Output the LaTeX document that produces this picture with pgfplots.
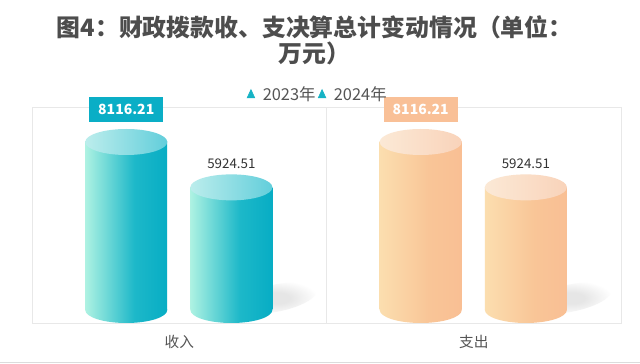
\documentclass[border=0pt]{standalone}
\usepackage{fontspec}
\setmainfont{Noto Sans CJK SC}
\usepackage{pgfplots}
\pgfplotsset{compat=1.18}
\definecolor{tA}{HTML}{AEF2E2}
\definecolor{tB}{HTML}{1DB8C9}
\definecolor{tC}{HTML}{07ADC4}
\definecolor{ttA}{HTML}{BCEDEC}
\definecolor{ttB}{HTML}{62CEDB}
\definecolor{pA}{HTML}{FBDEAF}
\definecolor{pB}{HTML}{F9C597}
\definecolor{pC}{HTML}{F9BF94}
\definecolor{ptA}{HTML}{FBE9D6}
\definecolor{ptB}{HTML}{F9D3BA}
\definecolor{tealbox}{HTML}{0AAEC6}
\definecolor{peachbox}{HTML}{F9C097}
\definecolor{frame}{HTML}{E8E8E8}
\definecolor{bline}{HTML}{DCDCDC}
\definecolor{labc}{HTML}{555555}
\definecolor{titc}{HTML}{4D4D4D}
\definecolor{valc}{HTML}{333333}
\definecolor{legtri}{HTML}{16B3C5}
\definecolor{shc}{HTML}{E6E6E6}
\pgfdeclarehorizontalshading{tealside}{100bp}{color(0bp)=(tA); color(25bp)=(tA); color(55bp)=(tB); color(75bp)=(tC); color(100bp)=(tC)}
\pgfdeclarehorizontalshading{tealtopsh}{100bp}{color(0bp)=(ttA); color(25bp)=(ttA); color(75bp)=(ttB); color(100bp)=(ttB)}
\pgfdeclarehorizontalshading{peachside}{100bp}{color(0bp)=(pA); color(25bp)=(pA); color(55bp)=(pB); color(75bp)=(pC); color(100bp)=(pC)}
\pgfdeclarehorizontalshading{peachtopsh}{100bp}{color(0bp)=(ptA); color(25bp)=(ptA); color(75bp)=(ptB); color(100bp)=(ptB)}
\pgfdeclareradialshading{shadowsh}{\pgfpoint{0bp}{0bp}}{color(0bp)=(shc); color(8bp)=(shc); color(25bp)=(white); color(50bp)=(white)}
\pgfdeclareplotmark{tealtop}{\pgfpathellipse{\pgfpointorigin}{\pgfpoint{30.75pt}{0pt}}{\pgfpoint{0pt}{9.75pt}}\pgfshadepath{tealtopsh}{0}\pgfusepath{discard}}
\pgfdeclareplotmark{tealbot}{\pgfpathellipse{\pgfpointorigin}{\pgfpoint{30.75pt}{0pt}}{\pgfpoint{0pt}{9.75pt}}\pgfshadepath{tealside}{0}\pgfusepath{discard}}
\pgfdeclareplotmark{peachtop}{\pgfpathellipse{\pgfpointorigin}{\pgfpoint{30.75pt}{0pt}}{\pgfpoint{0pt}{9.75pt}}\pgfshadepath{peachtopsh}{0}\pgfusepath{discard}}
\pgfdeclareplotmark{peachbot}{\pgfpathellipse{\pgfpointorigin}{\pgfpoint{30.75pt}{0pt}}{\pgfpoint{0pt}{9.75pt}}\pgfshadepath{peachside}{0}\pgfusepath{discard}}
\pgfdeclareplotmark{barshadow}{\pgfpathellipse{\pgfpoint{34pt}{9pt}}{\pgfpoint{30pt}{6pt}}{\pgfpoint{-2pt}{10pt}}\pgfshadepath{shadowsh}{0}\pgfusepath{discard}}
\pgfplotsset{
  tealbar/.style={forget plot, ybar, bar width=61.5pt, bar shift=0pt, draw=none, shade, shading=tealside},
  peachbar/.style={forget plot, ybar, bar width=61.5pt, bar shift=0pt, draw=none, shade, shading=peachside},
  legtri/.style={only marks, mark=triangle*, mark size=3.3pt, mark options={yscale=1.25}, color=legtri,
    legend image code/.code={\draw[##1] plot coordinates {(0.12cm,0cm)};}},
}
\begin{document}
\begin{tikzpicture}
\path[use as bounding box] (0,0) rectangle (480pt,273pt);
\fill[white] (0,0) rectangle (480pt,273pt);
\node[align=center, font=\bfseries\fontsize{17.9}{19.5}\selectfont, text=titc] at (236pt,242.5pt) {图4：财政拨款收、支决算总计变动情况（单位：\\万元）};
\draw[bline, line width=0.75pt] (0,1.2pt) -- (480pt,1.2pt);
\begin{axis}[
  at={(24pt,30pt)}, anchor=south west,
  scale only axis, width=441.75pt, height=162pt,
  xmin=-0.5, xmax=1.5, ymin=-676.4, ymax=9758.7,
  axis line style={draw=frame, line width=0.75pt},
  ytick=\empty,
  xtick={0,1}, xticklabels={收入,支出},
  major tick length=0pt,
  xticklabel style={font=\fontsize{11}{13}\selectfont, text=labc, yshift=-5pt},
  extra x ticks={0.5}, extra x tick labels={},
  extra x tick style={grid=major, major grid style={draw=frame, line width=0.75pt}},
  clip=false, clip marker paths=true,
  /pgf/number format/.cd, fixed, precision=2, fixed zerofill, 1000 sep={}, assume math mode=true,
  /pgfplots/.cd,
  legend style={at={(0.486,1.06)}, anchor=center, draw=none, fill=none,
    font=\fontsize{12.3}{14}\selectfont, text=labc,
    /tikz/every even column/.append style={column sep=0pt},
    /tikz/every odd column/.append style={column sep=4pt}},
  legend columns=2,
]
% shadows
\addplot[forget plot, only marks, mark=barshadow] coordinates {(0.177,0) (1.177,0)};
% teal (收入)
\addplot[forget plot, only marks, mark=tealbot] coordinates {(-0.18,0) (0.177,0)};
\addplot[tealbar] coordinates {(-0.18,8116.21)};
\addplot[tealbar] coordinates {(0.177,5924.51)};
\addplot[forget plot, only marks, mark=tealtop] coordinates {(-0.18,8116.21) (0.177,5924.51)};
% peach (支出)
\addplot[forget plot, only marks, mark=peachbot] coordinates {(0.82,0) (1.177,0)};
\addplot[peachbar] coordinates {(0.82,8116.21)};
\addplot[peachbar] coordinates {(1.177,5924.51)};
\addplot[forget plot, only marks, mark=peachtop] coordinates {(0.82,8116.21) (1.177,5924.51)};
% labels
\addplot[forget plot, draw=none, mark=none, point meta=y, nodes near coords,
  nodes near coords style={fill=tealbox, text=white, font=\bfseries\fontsize{10.5}{12}\selectfont, minimum width=55.5pt, minimum height=18.75pt, inner sep=0pt, anchor=center, yshift=24.4pt}]
  coordinates {(-0.18,8116.21)};
\addplot[forget plot, draw=none, mark=none, point meta=y, nodes near coords,
  nodes near coords style={fill=peachbox, text=white, font=\bfseries\fontsize{10.5}{12}\selectfont, minimum width=55.5pt, minimum height=18.75pt, inner sep=0pt, anchor=center, yshift=24.4pt}]
  coordinates {(0.82,8116.21)};
\addplot[forget plot, draw=none, mark=none, point meta=y, nodes near coords,
  nodes near coords style={text=valc, font=\fontsize{10}{12}\selectfont, anchor=center, yshift=18pt}]
  coordinates {(0.177,5924.51) (1.177,5924.51)};
\addlegendimage{legtri}
\addlegendentry{2023年}
\addlegendimage{legtri}
\addlegendentry{2024年}
\end{axis}
\end{tikzpicture}
\end{document}
